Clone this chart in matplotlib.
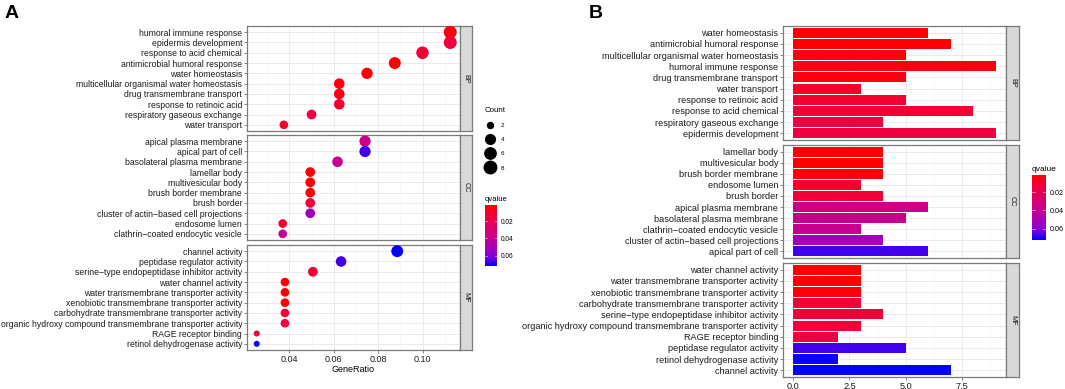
import numpy as np
import matplotlib
matplotlib.use("Agg")
import matplotlib.pyplot as plt
from matplotlib.colors import LinearSegmentedColormap, Normalize
from matplotlib.cm import ScalarMappable
from matplotlib.lines import Line2D

plt.rcParams['font.family'] = ['Liberation Sans', 'DejaVu Sans']

# ---- data (barplot order, top to bottom) ----
bp_terms = ["water homeostasis", "antimicrobial humoral response",
            "multicellular organismal water homeostasis", "humoral immune response",
            "drug transmembrane transport", "water transport", "response to retinoic acid",
            "response to acid chemical", "respiratory gaseous exchange", "epidermis development"]
bp_count = [6, 7, 5, 9, 5, 3, 5, 8, 4, 9]
bp_q = [0.0018, 0.0020, 0.0030, 0.0045, 0.0050, 0.0090, 0.0105, 0.0115, 0.0140, 0.0150]

cc_terms = ["lamellar body", "multivesicular body", "brush border membrane", "endosome lumen",
            "brush border", "apical plasma membrane", "basolateral plasma membrane",
            "clathrin\u2212coated endocytic vesicle", "cluster of actin\u2212based cell projections",
            "apical part of cell"]
cc_count = [4, 4, 4, 3, 4, 6, 5, 3, 4, 6]
cc_q = [0.0018, 0.0020, 0.0030, 0.0100, 0.0120, 0.0370, 0.0385, 0.0395, 0.0520, 0.0670]

mf_terms = ["water channel activity", "water transmembrane transporter activity",
            "xenobiotic transmembrane transporter activity",
            "carbohydrate transmembrane transporter activity",
            "serine\u2212type endopeptidase inhibitor activity",
            "organic hydroxy compound transmembrane transporter activity",
            "RAGE receptor binding", "peptidase regulator activity",
            "retinol dehydrogenase activity", "channel activity"]
mf_count = [3, 3, 3, 3, 4, 3, 2, 5, 2, 7]
mf_q = [0.0018, 0.0020, 0.0025, 0.0120, 0.0125, 0.0130, 0.0140, 0.0670, 0.0710, 0.0715]

# ---- dotplot order (top to bottom) and GeneRatio ----
bp_dot_terms = ["humoral immune response", "epidermis development", "response to acid chemical",
                "antimicrobial humoral response", "water homeostasis",
                "multicellular organismal water homeostasis", "drug transmembrane transport",
                "response to retinoic acid", "respiratory gaseous exchange", "water transport"]
bp_ratio = [0.1125, 0.1125, 0.100, 0.0875, 0.075, 0.0625, 0.0625, 0.0625, 0.050, 0.0375]

cc_dot_terms = ["apical plasma membrane", "apical part of cell", "basolateral plasma membrane",
                "lamellar body", "multivesicular body", "brush border membrane", "brush border",
                "cluster of actin\u2212based cell projections", "endosome lumen",
                "clathrin\u2212coated endocytic vesicle"]
cc_ratio = [0.0741, 0.0741, 0.0617, 0.0494, 0.0494, 0.0494, 0.0494, 0.0494, 0.0370, 0.0370]

mf_dot_terms = ["channel activity", "peptidase regulator activity",
                "serine\u2212type endopeptidase inhibitor activity", "water channel activity",
                "water transmembrane transporter activity",
                "xenobiotic transmembrane transporter activity",
                "carbohydrate transmembrane transporter activity",
                "organic hydroxy compound transmembrane transporter activity",
                "RAGE receptor binding", "retinol dehydrogenase activity"]
mf_ratio = [0.0886, 0.0633, 0.0506, 0.0380, 0.0380, 0.0380, 0.0380, 0.0380, 0.0253, 0.0253]

groups = [("BP", bp_terms, bp_count, bp_q, bp_dot_terms, bp_ratio),
          ("CC", cc_terms, cc_count, cc_q, cc_dot_terms, cc_ratio),
          ("MF", mf_terms, mf_count, mf_q, mf_dot_terms, mf_ratio)]

# ggplot-like red->blue gradient (Lab interpolation)
cmap = LinearSegmentedColormap.from_list("rb", ["#FF0000", "#F40031", "#E80050", "#DA006C",
                                                "#CC0088", "#B500A5", "#9A00C3", "#7300E0",
                                                "#0000FF"])
norm = Normalize(0.0015, 0.072)

W, H = 1065, 389
fig = plt.figure(figsize=(W / 100, H / 100), dpi=100)


def ax_px(l, t, r, b):
    return fig.add_axes([l / W, 1 - b / H, (r - l) / W, (b - t) / H])


def dot_size(c):
    d = 6 + 7 * np.sqrt((np.asarray(c) - 2) / 7.0)
    return (d * 0.72) ** 2


border = "#7a7a7a"
grid_c = "#ebebeb"


def style_panel(ax):
    ax.set_facecolor("white")
    for s in ax.spines.values():
        s.set_color(border)
        s.set_linewidth(0.9)
    ax.grid(True, which="major", color=grid_c, lw=0.7)
    ax.grid(True, which="minor", color="#f3f3f3", lw=0.4)
    ax.set_axisbelow(True)
    ax.tick_params(axis="both", which="major", color="#555555", length=2.5, width=0.5, pad=1)
    ax.tick_params(axis="both", which="minor", length=0)


def add_strip(l, t, r, b, label, fs):
    sax = ax_px(l, t, r, b)
    sax.set_facecolor("#d9d9d9")
    sax.set_xticks([])
    sax.set_yticks([])
    for s in sax.spines.values():
        s.set_color(border)
        s.set_linewidth(0.9)
    sax.text(0.5, 0.5, label, rotation=-90, ha="center", va="center", fontsize=fs,
             color="#1a1a1a", transform=sax.transAxes)


# ---------------- Panel A: dotplot ----------------
rows_a = [(26, 131), (135, 240), (245, 350)]
for i, (name, terms, counts, qs, dterms, ratio) in enumerate(groups):
    t, b = rows_a[i]
    ax = ax_px(247, t, 460, b)
    cdict = dict(zip(terms, counts))
    qdict = dict(zip(terms, qs))
    n = len(dterms)
    y = np.arange(n, 0, -1)
    ax.scatter(ratio, y, s=dot_size([cdict[k] for k in dterms]),
               c=[qdict[k] for k in dterms], cmap=cmap, norm=norm, linewidths=0, zorder=3)
    ax.set_ylim(0.4, n + 0.6)
    ax.set_yticks(y)
    ax.set_yticklabels(dterms, fontsize=6.2, color="#1a1a1a")
    ax.set_xlim(0.0209, 0.1169)
    ax.set_xticks([0.04, 0.06, 0.08, 0.10])
    ax.set_xticks([0.03, 0.05, 0.07, 0.09, 0.11], minor=True)
    style_panel(ax)
    if i == 2:
        ax.set_xticklabels(["0.04", "0.06", "0.08", "0.10"], fontsize=6.5, color="#1a1a1a")
        ax.set_xlabel("GeneRatio", fontsize=6.5, labelpad=1)
    else:
        ax.tick_params(axis="x", which="both", length=0, labelbottom=False)
    add_strip(460, t, 472, b, name, 5.2)

# Count legend
leg_counts = [2, 4, 6, 8]
handles = [Line2D([], [], ls="", marker="o", color="black",
                  markersize=float(np.sqrt(dot_size(c)))) for c in leg_counts]
fig.legend(handles, [str(c) for c in leg_counts], title="Count", loc="upper left",
           bbox_to_anchor=(485 / W, 1 - 107 / H), frameon=False, fontsize=4.5,
           title_fontsize=5.7, labelspacing=1.4, handletextpad=1.0, borderpad=0,
           alignment="left", handlelength=1.5, borderaxespad=0)


def add_cbar(l, t, r, b, title_fs, tick_fs):
    cax = ax_px(l, t, r, b)
    sm = ScalarMappable(norm=norm, cmap=cmap)
    cb = fig.colorbar(sm, cax=cax)
    cax.invert_yaxis()
    cb.set_ticks([0.02, 0.04, 0.06])
    cb.set_ticklabels(["0.02", "0.04", "0.06"])
    cb.outline.set_visible(False)
    cax.tick_params(length=0, labelsize=tick_fs, pad=3)
    for v in [0.02, 0.04, 0.06]:
        cax.axhline(v, xmin=0, xmax=0.2, color="white", lw=0.5, alpha=0.7)
        cax.axhline(v, xmin=0.8, xmax=1, color="white", lw=0.5, alpha=0.7)
    cax.set_title("qvalue", loc="left", fontsize=title_fs, pad=3)


add_cbar(485, 205, 497, 266, 5.5, 4.7)

# ---------------- Panel B: barplot ----------------
rows_b = [(26, 140), (145, 258), (263, 377)]
for i, (name, terms, counts, qs, dterms, ratio) in enumerate(groups):
    t, b = rows_b[i]
    ax = ax_px(783, t, 1006, b)
    n = len(terms)
    y = np.arange(n, 0, -1)
    ax.barh(y, counts, height=0.9, color=cmap(norm(qs)), zorder=3)
    ax.set_ylim(0.4, n + 0.6)
    ax.set_yticks(y)
    ax.set_yticklabels(terms, fontsize=6.6, color="#1a1a1a")
    ax.set_xlim(-0.45, 9.45)
    ax.set_xticks([0, 2.5, 5, 7.5])
    ax.set_xticks([1.25, 3.75, 6.25, 8.75], minor=True)
    style_panel(ax)
    if i == 2:
        ax.set_xticklabels(["0.0", "2.5", "5.0", "7.5"], fontsize=6.6, color="#1a1a1a")
    else:
        ax.tick_params(axis="x", which="both", length=0, labelbottom=False)
    add_strip(1006, t, 1019, b, name, 5.2)

add_cbar(1032, 175, 1046, 240, 6.0, 5.2)

fig.text(5 / W, 1 - 17.5 / H, "A", fontsize=14, fontweight="bold", ha="left", va="baseline")
fig.text(589 / W, 1 - 17.5 / H, "B", fontsize=14, fontweight="bold", ha="left", va="baseline")

fig.savefig("out.png", dpi=100)
